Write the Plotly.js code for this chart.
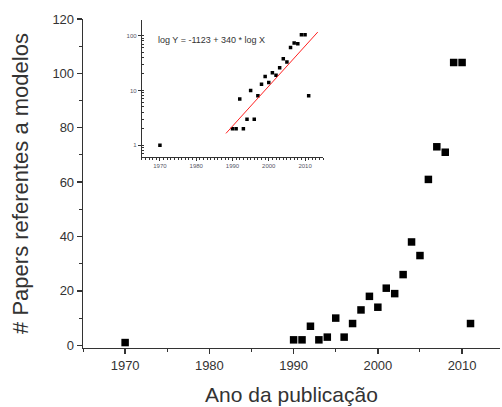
<!DOCTYPE html>
<html>
<head>
<meta charset="utf-8">
<script src="https://cdn.plot.ly/plotly-3.0.1.min.js"></script>
<style>html,body{margin:0;padding:0;background:#fff;}#chart{width:502px;height:407px;}</style>
</head>
<body>
<div id="chart"></div>
<script>
const years = [1970, 1990, 1991, 1992, 1993, 1994, 1995, 1996, 1997, 1998, 1999, 2000, 2001, 2002, 2003, 2004, 2005, 2006, 2007, 2008, 2009, 2010, 2011];
const papers = [1, 2, 2, 7, 2, 3, 10, 3, 8, 13, 18, 14, 21, 19, 26, 38, 33, 61, 73, 71, 104, 104, 8];
const fitYears = [1988.2, 2013.5];
const fitPapers = [1.65, 116];
const mainXTicks = [1970, 1980, 1990, 2000, 2010];
const mainYTicks = [0, 20, 40, 60, 80, 100, 120];
const insetYTicks = [1, 10, 100];
const fitLabel = "log Y = -1123 + 340 * log X";

const font = "Liberation Sans, Arial, sans-serif";
const data = [
  {x: years, y: papers, type: 'scatter', mode: 'markers', xaxis: 'x', yaxis: 'y',
   marker: {symbol: 'square', size: 7.5, color: '#000'}, showlegend: false, hoverinfo: 'skip'},
  {x: years, y: papers, type: 'scatter', mode: 'markers', xaxis: 'x2', yaxis: 'y2',
   marker: {symbol: 'square', size: 3.5, color: '#000'}, showlegend: false, hoverinfo: 'skip'},
  {x: fitYears, y: fitPapers, type: 'scatter', mode: 'lines', xaxis: 'x2', yaxis: 'y2',
   line: {color: '#ff2020', width: 1}, showlegend: false, hoverinfo: 'skip'}
];
const layout = {
  width: 502, height: 407,
  margin: {l: 83, r: 2, t: 19, b: 59},
  paper_bgcolor: '#fff', plot_bgcolor: 'rgba(0,0,0,0)',
  font: {family: font, color: '#333'},
  xaxis: {
    domain: [0, 1], range: [1965, 2014.5], showgrid: false, zeroline: false,
    showline: true, linecolor: '#333', linewidth: 1.3,
    ticks: 'outside', ticklen: 5, tickcolor: '#333', tickwidth: 1.3,
    tickvals: mainXTicks, tickfont: {size: 13, color: '#333'},
    minor: {dtick: 5, tick0: 1965, ticks: 'outside', ticklen: 3, tickcolor: '#333', tickwidth: 1},
    title: {text: 'Ano da publicação', font: {size: 21, color: '#333'}, standoff: 15}
  },
  yaxis: {
    domain: [0, 1], range: [-1, 120], showgrid: false, zeroline: false,
    showline: true, linecolor: '#333', linewidth: 1.3,
    ticks: 'outside', ticklen: 5, tickcolor: '#333', tickwidth: 1.3,
    tickvals: mainYTicks, tickfont: {size: 13, color: '#333'},
    minor: {dtick: 10, tick0: 0, ticks: 'outside', ticklen: 3, tickcolor: '#333', tickwidth: 1},
    title: {text: '# Papers referentes a modelos', font: {size: 22, color: '#333'}, standoff: 17}
  },
  xaxis2: {
    domain: [0.141, 0.576], anchor: 'y2', range: [1965, 2015], showgrid: false, zeroline: false,
    showline: true, linecolor: '#333', linewidth: 1,
    ticks: 'outside', ticklen: 3, tickcolor: '#333', tickwidth: 1,
    tickvals: mainXTicks, tickfont: {size: 6, color: '#556'},
    minor: {dtick: 1, tick0: 1965, ticks: 'outside', ticklen: 2, tickcolor: '#333', tickwidth: 1}
  },
  yaxis2: {
    domain: [0.581, 0.997], anchor: 'x2', type: 'log', range: [-0.21, 2.285], showgrid: false, zeroline: false,
    showline: true, linecolor: '#333', linewidth: 1,
    ticks: 'outside', ticklen: 3, tickcolor: '#333', tickwidth: 1,
    tickvals: insetYTicks, ticktext: insetYTicks.map(String), tickfont: {size: 6, color: '#556'},
    minor: {ticks: 'inside', ticklen: 2, tickcolor: '#333', tickwidth: 1, dtick: 'D1'}
  },
  annotations: [
    {text: fitLabel, xref: 'x2', yref: 'paper', x: 1968.9, y: (348 - 40) / 329, xanchor: 'left', yanchor: 'middle',
     showarrow: false, font: {size: 9, color: '#333', family: font}}
  ]
};
Plotly.newPlot('chart', data, layout, {staticPlot: true, displayModeBar: false});
</script>
</body>
</html>
